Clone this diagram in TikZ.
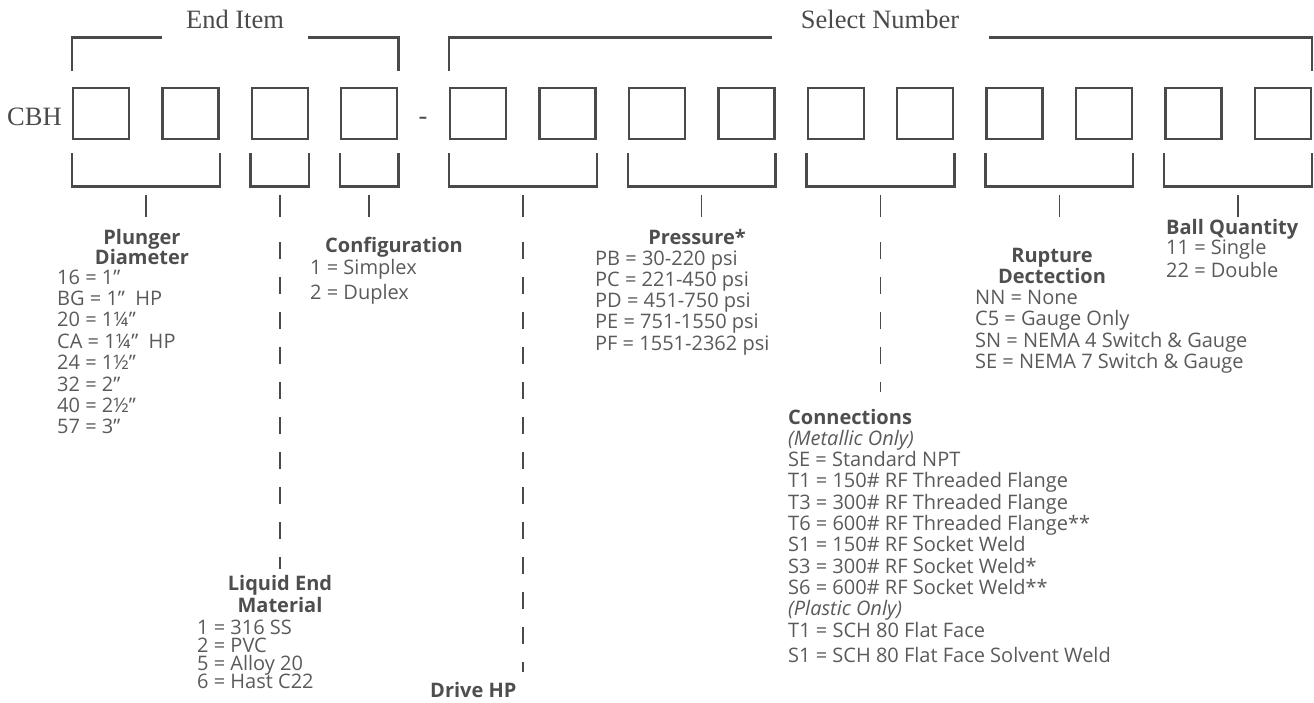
\documentclass[tikz,border=0pt]{standalone}
\usepackage{fontspec}
\setmainfont{Liberation Serif}
\newfontfamily\osans{Open Sans}
\usetikzlibrary{calc}
\definecolor{ink}{HTML}{4A4A4A}
\definecolor{txt}{HTML}{5A5A5A}
\definecolor{hdc}{HTML}{4E4E4E}
\begin{document}
\begin{tikzpicture}[x=1pt,y=-1pt,
  cell/.style={draw=ink, line width=2.4pt, minimum width=56pt, minimum height=51pt, inner sep=0pt, anchor=north west},
  brk/.style={draw=ink, line width=2.4pt},
  tick/.style={draw=ink, line width=1.4pt},
  dsh/.style={draw=ink, line width=1.4pt, dash pattern=on 17pt off 18pt},
  serif/.style={font=\fontsize{26.5}{30}\selectfont, text=ink, inner sep=0pt, anchor=base},
  itm/.style={font=\osans\fontsize{20}{22}\selectfont, text=txt, inner sep=0pt, anchor=base west},
  itl/.style={font=\osans\itshape\fontsize{20}{22}\selectfont, text=txt, inner sep=0pt, anchor=base west},
  hd/.style={font=\osans\bfseries\fontsize{20}{22}\selectfont, text=hdc, inner sep=0pt, anchor=base},
]
\useasboundingbox (0,0) rectangle (1314,702);

% boxes
\foreach \i/\xx in {1/72,2/161.3,3/250.6,4/339.9}
  \node[cell] (b\i) at (\xx,87) {};
\foreach \k in {0,...,9}{
  \pgfmathtruncatemacro\i{\k+5}
  \node[cell] (b\i) at ({449+89.4*\k},87) {};
}

% serif labels
\node[serif, anchor=base west] (cbh) at (7,125) {CBH};
\node[serif] (hy) at (423,124) {-};
\node[serif] (endi) at (235,28) {End Item};
\node[serif] (seln) at (880,28) {Select Number};

% top brackets
\coordinate (eiL) at (162,37.5);
\coordinate (eiR) at (307.6,37.5);
\coordinate (snL) at (772,37.5);
\coordinate (snR) at (988.8,37.5);
\draw[brk] ([yshift=16pt]b1.north west) -- (b1.north west |- eiL) -- (eiL);
\draw[brk] (eiR) -- (b4.north east |- eiR) -- ([yshift=16pt]b4.north east);
\draw[brk] ([yshift=16pt]b5.north west) -- (b5.north west |- snL) -- (snL);
\draw[brk] (snR) -- (b14.north east |- snR) -- ([yshift=16pt]b14.north east);

% lower brackets and ticks
\foreach \a/\b [count=\g] in {1/2,3/3,4/4,5/6,7/8,9/10,11/12,13/14}{
  \draw[brk] ([yshift=-13pt]b\a.south west) -- ([yshift=-46pt]b\a.south west)
     -- ([yshift=-46pt]b\b.south east) -- ([yshift=-13pt]b\b.south east);
  \coordinate (g\g) at ($(b\a.south west)!0.5!(b\b.south east)$);
  \draw[tick] ([yshift=-55pt]g\g) -- ([yshift=-77pt]g\g);
}
% dashed leaders
\draw[dsh] ([yshift=-102pt]g2) -- ([yshift=-429pt]g2);
\draw[dsh] ([yshift=-102pt]g4) -- ([yshift=-532pt]g4);
\draw[dsh] ([yshift=-102pt]g6) -- ([yshift=-252pt]g6);

% Plunger Diameter
\node[hd] (pl1) at (142,244) {Plunger};
\node[hd] (pl2) at (142,264) {Diameter};
\foreach \t [count=\i] in {16 = 1”, BG = 1” \ HP, 20 = 1¼”, CA = 1¼” \ HP, 24 = 1½”, 32 = 2”, 40 = 2½”, 57 = 3”}
  \node[itm] (pli\i) at (57,{284+21.4*(\i-1)}) {\t};

% Configuration
\node[hd, anchor=base west] (cf0) at (325,252) {Configuration};
\node[itm] (cf1) at (310,274) {1 = Simplex};
\node[itm] (cf2) at (310,299) {2 = Duplex};

% Pressure
\node[hd] (pr0) at (697,244) {Pressure*};
\foreach \t [count=\i] in {PB = 30-220 psi, PC = 221-450 psi, PD = 451-750 psi, PE = 751-1550 psi, PF = 1551-2362 psi}
  \node[itm] (pri\i) at (595,{265+21.3*(\i-1)}) {\t};

% Rupture Dectection
\node[hd] (ru1) at (1052,262) {Rupture};
\node[hd] (ru2) at (1052,283) {Dectection};
\foreach \t [count=\i] in {NN = None, C5 = Gauge Only, SN = NEMA 4 Switch \& Gauge, SE = NEMA 7 Switch \& Gauge}
  \node[itm] (rui\i) at (975,{304+21.6*(\i-1)}) {\t};

% Ball Quantity
\node[hd, anchor=base west] (bq0) at (1166,234) {Ball Quantity};
\node[itm] (bq1) at (1166,254) {11 = Single};
\node[itm] (bq2) at (1166,277) {22 = Double};

% Connections
\node[hd, anchor=base west] (cn0) at (788,424) {Connections};
\node[itl] (cnm) at (788,445.3) {(Metallic Only)};
\foreach \t [count=\i] in {SE = Standard NPT, T1 = 150\# RF Threaded Flange, T3 = 300\# RF Threaded Flange, T6 = 600\# RF Threaded Flange**, S1 = 150\# RF Socket Weld, S3 = 300\# RF Socket Weld*, S6 = 600\# RF Socket Weld**}
  \node[itm] (cni\i) at (788,{466.6+21.3*(\i-1)}) {\t};
\node[itl] (cnp) at (788,615.7) {(Plastic Only)};
\node[itm] (cnp1) at (788,637) {T1 = SCH 80 Flat Face};
\node[itm] (cnp2) at (788,662) {S1 = SCH 80 Flat Face Solvent Weld};

% Liquid End Material
\node[hd] (le1) at (280,590) {Liquid End};
\node[hd] (le2) at (280,612) {Material};
\foreach \t [count=\i] in {1 = 316 SS, 2 = PVC, 5 = Alloy 20, 6 = Hast C22}
  \node[itm] (lei\i) at (197,{634+18*(\i-1)}) {\t};

% Drive HP
\node[hd, anchor=base west] (dhp) at (430,697) {Drive HP};
\end{tikzpicture}
\end{document}
